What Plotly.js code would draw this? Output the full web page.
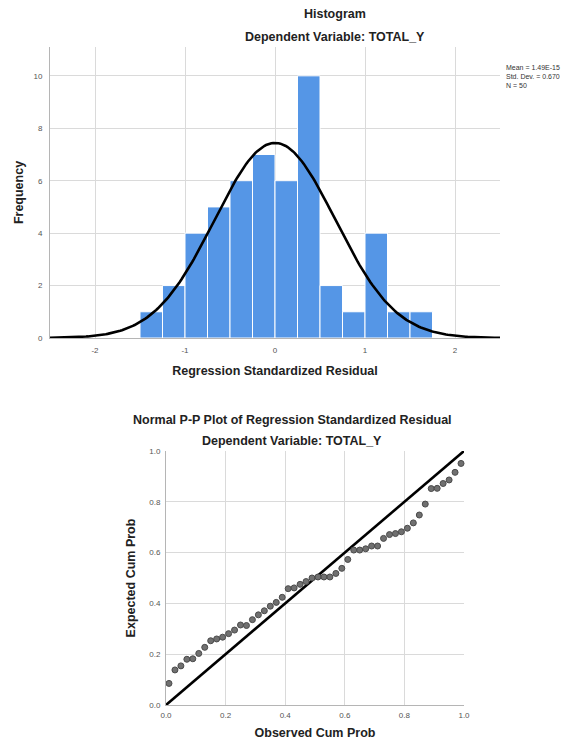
<!DOCTYPE html>
<html>
<head>
<meta charset="utf-8">
<script src="https://cdn.plot.ly/plotly-3.0.1.min.js"></script>
<style>
  html, body { margin: 0; padding: 0; background: #fff; }
  #chart { width: 572px; height: 740px; }
</style>
</head>
<body>
<div id="chart"></div>
<script>
// ---- Histogram data (bin centres, width 0.25) ----
const binCenters = [-1.375, -1.125, -0.875, -0.625, -0.375, -0.125, 0.125, 0.375, 0.625, 0.875, 1.125, 1.375, 1.625];
const binCounts  = [1, 2, 4, 5, 6, 7, 6, 10, 2, 1, 4, 1, 1];
const binWidth = 0.25;
const statMean = 1.49e-15;
const statSD = 0.670;
const statN = 50;
const statsText = ['Mean = 1.49E-15', 'Std. Dev. = 0.670', 'N = 50'];
const histTicks = [-2, -1, 0, 1, 2];
const freqTicks = [0, 2, 4, 6, 8, 10];

// ---- Normal P-P plot data ----
const observedCum = [0.01,0.03,0.05,0.07,0.09,0.11,0.13,0.15,0.17,0.19,
                     0.21,0.23,0.25,0.27,0.29,0.31,0.33,0.35,0.37,0.39,
                     0.41,0.43,0.45,0.47,0.49,0.51,0.53,0.55,0.57,0.59,
                     0.61,0.63,0.65,0.67,0.69,0.71,0.73,0.75,0.77,0.79,
                     0.81,0.83,0.85,0.87,0.89,0.91,0.93,0.95,0.97,0.99];
const expectedCum = [0.085,0.138,0.154,0.180,0.182,0.203,0.227,0.253,0.260,0.267,
                     0.281,0.295,0.315,0.313,0.336,0.355,0.371,0.389,0.404,0.424,
                     0.458,0.461,0.475,0.486,0.500,0.504,0.504,0.504,0.518,0.538,
                     0.573,0.610,0.610,0.615,0.626,0.626,0.656,0.671,0.675,0.682,
                     0.696,0.717,0.748,0.791,0.852,0.853,0.872,0.886,0.916,0.951];
const refLine = [0, 1];
const ppTicks = [0, 0.2, 0.4, 0.6, 0.8, 1.0];

// Fitted normal curve scaled to frequencies (from the chart's stats)
const curveX = [], curveY = [];
for (let x = -2.5; x <= 2.5001; x += 0.02) {
  curveX.push(x);
  curveY.push(statN * binWidth * Math.exp(-0.5 * Math.pow((x - statMean) / statSD, 2)) / (statSD * Math.sqrt(2 * Math.PI)));
}

const W = 572, H = 740;
const px = v => v / W;
const py = v => 1 - v / H;

const FONT = 'Liberation Sans, Arial, sans-serif';
const gridC = '#dadada';
const axisC = '#b5b5b5';
const tickFont = { family: FONT, size: 8, color: '#555555' };
const titleFont = { family: FONT, size: 12.5, color: '#222', weight: 'bold' };

const traces = [
  {
    type: 'bar', x: binCenters, y: binCounts, width: binWidth,
    marker: { color: '#5596e6', line: { color: '#ffffff', width: 1 } },
    xaxis: 'x', yaxis: 'y', hoverinfo: 'x+y', showlegend: false
  },
  {
    type: 'scatter', mode: 'lines', x: curveX, y: curveY,
    line: { color: '#000000', width: 2.6 },
    xaxis: 'x', yaxis: 'y', showlegend: false, cliponaxis: true
  },
  {
    type: 'scatter', mode: 'lines', x: refLine, y: refLine,
    line: { color: '#000000', width: 2.6 },
    xaxis: 'x2', yaxis: 'y2', showlegend: false
  },
  {
    type: 'scatter', mode: 'markers', x: observedCum, y: expectedCum,
    marker: { color: '#707070', size: 6, line: { color: '#4a4a4a', width: 1 } },
    xaxis: 'x2', yaxis: 'y2', showlegend: false, cliponaxis: false
  }
];

const layout = {
  width: W, height: H,
  margin: { l: 0, r: 0, t: 0, b: 0 },
  paper_bgcolor: '#ffffff', plot_bgcolor: '#ffffff',
  showlegend: false,
  bargap: 0,
  font: { family: FONT },
  xaxis: {
    domain: [px(50), px(500)], range: [-2.5, 2.5], anchor: 'y',
    tickvals: histTicks, ticktext: histTicks.map(String),
    showgrid: true, gridcolor: gridC, gridwidth: 1,
    zeroline: false, showline: true, linecolor: axisC, linewidth: 1,
    ticks: '', tickfont: tickFont, ticklabelstandoff: 4,
    title: { text: 'Regression Standardized Residual', font: titleFont, standoff: 12 }
  },
  yaxis: {
    domain: [py(338), py(47)], range: [0, 11.1], anchor: 'x',
    tickvals: freqTicks, ticktext: freqTicks.map(String),
    showgrid: true, gridcolor: gridC, gridwidth: 1,
    zeroline: false, showline: true, linecolor: axisC, linewidth: 1,
    ticks: '', tickfont: tickFont, ticklabelstandoff: 5,
    title: { text: 'Frequency', font: titleFont, standoff: 7 }
  },
  xaxis2: {
    domain: [px(166), px(464)], range: [0, 1], anchor: 'y2',
    tickvals: ppTicks, ticktext: ppTicks.map(v => v.toFixed(1)),
    showgrid: true, gridcolor: gridC, gridwidth: 1,
    zeroline: false, showline: true, linecolor: axisC, linewidth: 1,
    mirror: false, ticks: '', tickfont: tickFont, ticklabelstandoff: 2,
    title: { text: 'Observed Cum Prob', font: titleFont, standoff: 10 }
  },
  yaxis2: {
    domain: [py(705), py(451)], range: [0, 1], anchor: 'x2',
    tickvals: ppTicks, ticktext: ppTicks.map(v => v.toFixed(1)),
    showgrid: true, gridcolor: gridC, gridwidth: 1,
    zeroline: false, showline: true, linecolor: axisC, linewidth: 1,
    ticks: '', tickfont: tickFont, ticklabelstandoff: 3,
    title: { text: 'Expected Cum Prob', font: titleFont, standoff: 10 }
  },
  annotations: [
    { text: 'Histogram', xref: 'paper', yref: 'paper', x: px(335), y: py(14), xanchor: 'center', yanchor: 'middle', showarrow: false, font: titleFont },
    { text: 'Dependent Variable: TOTAL_Y', xref: 'paper', yref: 'paper', x: px(335), y: py(37), xanchor: 'center', yanchor: 'middle', showarrow: false, font: titleFont },
    { text: statsText.join('<br>'), xref: 'paper', yref: 'paper', x: px(504), y: py(62), xanchor: 'left', yanchor: 'top', align: 'left', showarrow: false, font: { family: FONT, size: 7, color: '#333' } },
    { text: 'Normal P-P Plot of Regression Standardized Residual', xref: 'paper', yref: 'paper', x: px(292), y: py(420), xanchor: 'center', yanchor: 'middle', showarrow: false, font: titleFont },
    { text: 'Dependent Variable: TOTAL_Y', xref: 'paper', yref: 'paper', x: px(292), y: py(441), xanchor: 'center', yanchor: 'middle', showarrow: false, font: titleFont }
  ]
};

Plotly.newPlot('chart', traces, layout, { displayModeBar: false, staticPlot: true });
</script>
</body>
</html>
